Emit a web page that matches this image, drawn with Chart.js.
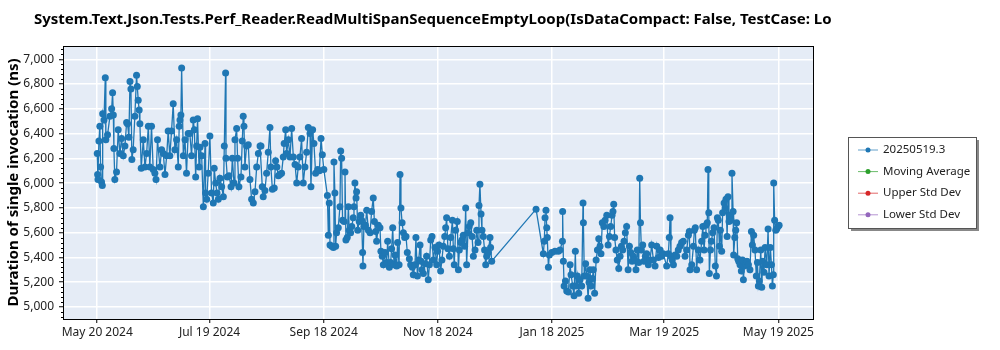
<!DOCTYPE html>
<html>
<head>
<meta charset="utf-8">
<script src="https://cdn.jsdelivr.net/npm/chart.js@4.4.1/dist/chart.umd.min.js"></script>
<style>
  html, body { margin: 0; padding: 0; background: #fff; }
</style>
</head>
<body>
<canvas id="grafico" width="1000" height="350"></canvas>
<script>
// dias desde 20/05/2024 e duracao medida (ns)
const dias = [
  0,0.2,0.4,0.9,1.4,1.8,2.3,2.7,2.9,3.6, 4.3,4.6,5.5,6.8,7.7,8.2,8.6,8.9,9.4,10.3,
  11.2,12.1,13,13.9,14.8,15.7,16.2,16.9,17.5,18, 18.5,19.2,20.1,21,21.4,21.9,22.4,22.8,23.5,24.6,
  25.5,26.4,27.3,28.1,29,29.9,30.8,31.4,32.2,33.5, 34.4,35.3,36.2,37.1,37.9,38.8,39.7,40.6,41.5,42.4,
  43.3,43.8,44.2,44.7,45.1,46,46.9,47.7,48.6,
  49.5,50.4,51.3,51.9,52.6,53.1,53.6,54.4,54.9,55.8, 56.7,57.6,57.9,58.5,59.3,60.2,61.1,62,62.5,63.3,
  64,64.7,65.6,66.5,67.4,67.9,68.6,68.8,69.5,70.4, 71.5,72.2,73.1,73.6,74.5,75,75.7,76.8,77.5,78,
  78.4,78.9,79.8,80.7,81.6,82.5,83.4,84.3,85.2,86.1, 87,87.5,88.2,88.7,89.6,90.5,91.4,92.3,92.8,93.6,
  94.6,95.3,96,96.8,97.6,98.5,99.4,99.9,100.7,101.2, 102.1,103,103.9,104.8,105.7,106.6,107.4,108.3,109.2,110.1,
  111,111.9,112.8,113.7,114.2,115.1,115.8,116.7,117.8,118.7, 119.6,120.3,121.1,
  123,123.5,124,124.4,125.3,126.2,126.5,127,127.4,127.9, 128.8,129.7,130.1,130.6,131.1,131.9,132.4,132.9,133.6,134.2,
  134.7,135.4,136,136.8,137.2,137.7,138.3,138.6,139.2,140, 140.8,141.3,141.8,142,142.5,143.3,144,144.9,145.8,146.6,
  147.5,148.1,148.8,149.3,150.2,151.1,151.6,152.3,152.9,153.8, 154.7,155.2,156.1,156.8,157.3,157.9,158.6,159.1,160,160.5,
  161.3,161.8,162.3,162.9,163.6,164.3,165,165.7,166.8,167.5, 168.4,168.9,169.8,170.3,171.1,171.8,172.5,173,173.5,174.3,
  175.2,176,176.9,177.5,178.2,178.9,179.6,180.5,181.4,181.9, 182.6,183.5,184.2,184.9,185.7,186.2,186.7,187.4,188.2,188.9,
  189.8,190.3,190.8,191.5,192.4,193,193.5,194.2,194.9,195.6, 196.3,196.9,197.4,198.1,198.8,199.6,200.3,201,201.9,202.8,
  203.5,204,204.5,205.1,205.6,206.3,207,207.6,208.1,209, 209.9,210.2,210.8,
  234.5,
  238.4,238.9,239.3,239.8,240.2,240.5,241.1,241.6,242.9, 244.6,246.4,247.3,248.6,248.7,249.1,249.5,250.2,250.9,251.8,
  252.7,253.2,254.1,254.8,255.5,255.9,256.6,257.3,258,258.9, 259.6,259.8,260.3,261,261.6,262.3,262.8,263.3,263.9,264.6,
  265.1,265.8,266.6,267.3,268,268.7,269.2,269.9,270.7,271.4, 272.3,273,273.7,274.4,275.1,275.6,276,276.5,277.2,277.9,
  278.7,279.4,280.1,280.8,281.5,282.2,282.9,283.7,284.4,285.1, 285.8,286.5,287.2,287.9,288.6,289.4,289.9,290.3,290.8,291.5,
  292.2,292.9,293.6,294.5,295.4,
  296.3,297.2,298.1,299,299.9,300.8,301.6,302.5,304.3,305.2, 305.7,306.1,306.6,307.3,307.9,308.8,309.7,310.5,311.4,312.3,
  313.2,314.1,315,315.9,316.4,316.8,317.7,318.6,319.1,319.6, 320.3,321.2,322.1,323,323.6,324.3,324.8,325.3,326,326.4,
  326.8,327.1,327.7,328.2,328.9,329.6,330.3,330.9,331.4,331.9, 332.5,333,333.7,334.2,335,335.5,336,336.6,337.1,337.6,
  338.2,338.7,339.2,339.8,340.1,340.7,341.2,341.7,342.3,342.8, 343.5,344.2,344.8,345.3,345.8,346.5,347.2,348,348.8,349.6,
  350.1,350.8,351.5,352.2,352.8,353.3,353.8,354.6,355.1,355.6, 356.3,356.9,357.8,358.5,359,359.7,360.3,360.8,361.3,361.5,
  362,362.6,363.1,363.8,364.4
];

const duracoes = [
  6240,6070,6030,6340,6460,6130,6010,5980,6560,6510, 6850,6350,6390,6540,6600,6730,6550,6280,6030,6090,
  6430,6240,6360,6220,6300,6490,6480,6370,6820,6760, 6190,6270,6540,6870,6780,6670,6590,6480,6120,6350,
  6130,6240,6460,6130,6460,6110,6080,6030,6350,6130, 6270,6240,6070,6220,6420,6220,6420,6640,6270,6350,
  6130,6460,6510,6550,6930,6220,6350,6080,6400,
  6400,6220,6510,6430,6050,6300,6520,6130,6290,6220, 5810,6320,5920,5870,6080,6380,5920,5840,6120,6000,
  5920,5870,6040,5970,5890,6300,6890,6200,6050,6060, 5970,6200,6000,6350,6440,6200,5970,6050,6340,6540,
  6460,6130,6300,6310,6030,5870,5840,5930,6130,6240, 6300,6300,5970,5890,5940,6080,6250,6450,6130,5950,
  5960,6180,6130,6060,6070,6080,6210,6320,6430,6240, 6350,6210,6440,6210,6150,6000,6130,6210,6360,6000,
  6130,6250,6450,6400,5970,6430,6320,6080,6110,6100, 6360,6230,6110,
  5900,5580,5840,5500,5490,5480,6170,5920,5490,5600, 5640,5810,6260,6200,5700,5690,6090,5540,5560,5810,
  5620,5600,5650,5720,5810,6000,5880,5930,5620,5690, 5740,5700,5440,5330,5650,5660,5780,5620,5600,5770,
  5880,5690,5610,5530,5660,5640,5450,5410,5340,5440, 5360,5530,5320,5360,5470,5640,5340,5420,5330,5520,
  5340,6070,5800,5680,5600,5560,5570,5440,5390,5340, 5320,5260,5340,5560,5250,5380,5500,5370,5300,5270,
  5350,5410,5220,5340,5540,5570,5380,5480,5340,5450, 5500,5290,5380,5490,5570,5640,5720,5470,5410,5560,
  5700,5470,5340,5620,5690,5300,5460,5520,5540,5580, 5490,5800,5340,5600,5650,5680,5570,5410,5460,5620,
  5520,5820,5990,5750,5620,5570,5460,5340,5410,5440, 5560,5480,5370,
  5790,
  5430,5530,5720,5780,5640,5560,5320,5420,5440, 5450,5450,5460,5530,5770,5370,5170,5210,5130,5120,
  5340,5260,5170,5090,5450,5170,5250,5110,5220,5170, 5840,5680,5250,5350,5250,5070,5200,5300,5170,5230,
  5300,5110,5380,5460,5550,5490,5430,5680,5650,5700, 5740,5500,5570,5650,5740,5770,5830,5560,5460,5380,
  5310,5410,5490,5460,5530,5600,5650,5300,5490,5440, 5370,5410,5380,5300,5460,5360,6040,5680,5460,5500,
  5370,5410,5430,5340,5380,
  5500,5380,5330,5490,5400,5460,5410,5430,5330,5430, 5560,5720,5410,5380,5340,5420,5410,5460,5490,5520,
  5530,5410,5460,5580,5610,5300,5340,5490,5620,5640, 5300,5460,5380,5530,5650,5460,5580,5660,5680,6110,
  5760,5270,5460,5530,5600,5640,5330,5250,5720,5700, 5490,5620,5450,5760,5840,5800,5870,5570,5890,5690,
  5740,5700,6080,5770,5420,5560,5620,5680,5390,5370, 5340,5290,5380,5220,5330,5350,5370,5340,5300,5610,
  5500,5580,5460,5250,5360,5170,5210,5460,5160,5370, 5280,5480,5340,5630,5250,5480,5340,5170,5260,6000,
  5700,5620,5630,5650,5660
];

// ticks do eixo x (dias desde 20/05/2024)
const diasTicks = [0, 60, 121, 182, 243, 303, 364];
const rotulosTicks = ['May 20 2024', 'Jul 19 2024', 'Sep 18 2024', 'Nov 18 2024', 'Jan 18 2025', 'Mar 19 2025', 'May 19 2025'];
const valoresY = [5000, 5200, 5400, 5600, 5800, 6000, 6200, 6400, 6600, 6800, 7000];

const nomesSeries = ['20250519.3', 'Moving Average', 'Upper Std Dev', 'Lower Std Dev'];
const coresSeries = ['#1f77b4', '#2ca02c', '#d62728', '#9467bd'];

const titulo = 'System.Text.Json.Tests.Perf_Reader.ReadMultiSpanSequenceEmptyLoop(IsDataCompact: False, TestCase: Lo';

if (dias.length != duracoes.length) {
  console.error('dias e duracoes com tamanhos diferentes: ' + dias.length + ' / ' + duracoes.length);
}

let pontos = [];
for (let i = 0; i < dias.length; i++) {
  pontos.push({ x: dias[i], y: duracoes[i] });
}

let datasets = nomesSeries.map(function (nome, i) {
  return {
    label: nome,
    data: i == 0 ? pontos : [],
    borderColor: coresSeries[i],
    backgroundColor: coresSeries[i],
    borderWidth: 1.3,
    pointRadius: 3.5,
    pointBorderWidth: 0,
    pointBackgroundColor: coresSeries[i],
  };
});

// fundo azul claro da area do grafico
const pluginFundo = {
  id: 'fundo',
  beforeDraw: function (chart) {
    const a = chart.chartArea;
    const ctx = chart.ctx;
    ctx.save();
    ctx.fillStyle = '#e5ecf6';
    ctx.fillRect(a.left, a.top, a.right - a.left, a.bottom - a.top);
    ctx.restore();
  }
};

// moldura, ticks menores, titulo e legenda
const pluginExtras = {
  id: 'extras',
  afterDraw: function (chart) {
    const a = chart.chartArea;
    const ctx = chart.ctx;
    const y = chart.scales.y;
    ctx.save();

    ctx.strokeStyle = '#000';
    ctx.lineWidth = 1;
    ctx.strokeRect(Math.round(a.left) + 0.5, Math.round(a.top) + 0.5, Math.round(a.right - a.left), Math.round(a.bottom - a.top));

    // ticks menores a cada 40
    ctx.beginPath();
    for (let v = 4920; v < 7110; v += 40) {
      if (v % 200 == 0) continue;
      let py = Math.round(y.getPixelForValue(v)) + 0.5;
      ctx.moveTo(a.left - 2, py);
      ctx.lineTo(a.left, py);
    }
    ctx.stroke();

    // titulo
    ctx.fillStyle = '#000';
    ctx.font = 'bold 15px "Noto Sans"';
    ctx.textBaseline = 'alphabetic';
    ctx.textAlign = 'left';
    ctx.fillText(titulo, 34, 24);

    // legenda
    const lx = 848, ly = 137, lw = 128, lh = 91;
    ctx.fillStyle = '#888';
    ctx.fillRect(lx + 3, ly + 3, lw, lh);
    ctx.fillStyle = '#fff';
    ctx.fillRect(lx, ly, lw, lh);
    ctx.strokeStyle = '#555';
    ctx.strokeRect(lx + 0.5, ly + 0.5, lw, lh);

    ctx.font = '11.5px "Noto Sans"';
    ctx.textBaseline = 'middle';
    chart.data.datasets.forEach(function (ds, i) {
      let iy = 150 + i * 21.6;
      ctx.strokeStyle = ds.borderColor;
      ctx.globalAlpha = 0.7;
      ctx.beginPath();
      ctx.moveTo(858, iy);
      ctx.lineTo(878, iy);
      ctx.stroke();
      ctx.globalAlpha = 1;
      ctx.fillStyle = ds.borderColor;
      ctx.beginPath();
      ctx.arc(868, iy, 2.5, 0, Math.PI * 2);
      ctx.fill();
      ctx.fillStyle = '#222';
      ctx.fillText(ds.label, 883, iy);
    });

    ctx.restore();
  }
};

const config = {
  type: 'line',
  data: { datasets: datasets },
  plugins: [pluginFundo, pluginExtras],
  options: {
    responsive: false,
    animation: false,
    layout: { padding: { top: 46, right: 187, left: 0, bottom: 0 } },
    plugins: {
      legend: { display: false },
      title: { display: false },
      tooltip: { enabled: false },
    },
    scales: {
      x: {
        type: 'linear',
        min: -18.3,
        max: 382.5,
        afterFit: function (scale) { scale.height = 31; },
        afterBuildTicks: function (scale) {
          scale.ticks = diasTicks.map(function (d) { return { value: d }; });
        },
        ticks: {
          autoSkip: false,
          maxRotation: 0,
          padding: 2,
          color: '#222',
          font: { size: 12, family: "'Noto Sans'" },
          callback: function (value, index) { return rotulosTicks[index]; },
        },
        grid: { color: '#fff', lineWidth: 1.5, tickLength: 4, tickColor: '#000', tickWidth: 1 },
        border: { color: '#000', width: 1 },
      },
      y: {
        min: 4903,
        max: 7107,
        afterFit: function (scale) { scale.width = 63; },
        afterBuildTicks: function (scale) {
          scale.ticks = valoresY.map(function (v) { return { value: v }; });
        },
        ticks: {
          padding: 5,
          color: '#222',
          font: { size: 12, family: "'Noto Sans'" },
          callback: function (value) { return value.toLocaleString('en-US'); },
        },
        title: {
          display: true,
          text: 'Duration of single invocation (ns)',
          color: '#000',
          font: { size: 15, weight: 'bold', family: "'Noto Sans'" },
          padding: { top: 5, bottom: 0 },
        },
        grid: { color: '#fff', lineWidth: 1.5, tickLength: 4, tickColor: '#000', tickWidth: 1 },
        border: { color: '#000', width: 1 },
      },
    },
  },
};

let chartDuracao = new Chart(document.getElementById('grafico'), config);
</script>
</body>
</html>
